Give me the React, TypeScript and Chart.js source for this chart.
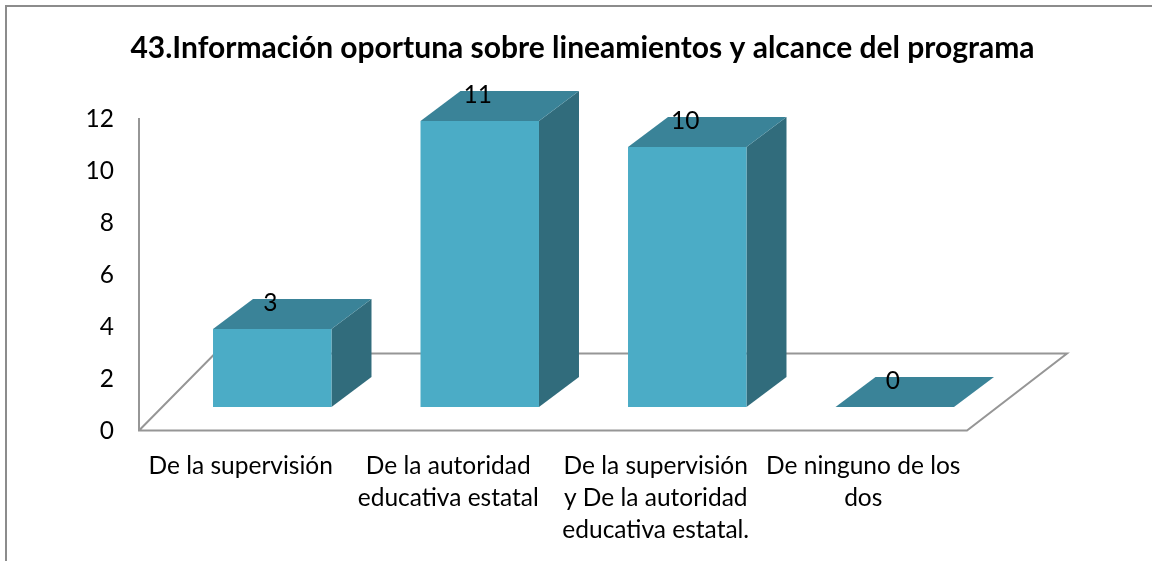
import React, { useEffect, useRef } from "react";
import { Chart, registerables } from "chart.js";

Chart.register(...registerables);

const categories = [
  "De la supervisión",
  ["De la autoridad", "educativa estatal"],
  ["De la supervisión", "y De la autoridad", "educativa estatal."],
  ["De ninguno de los", "dos"],
];
const values = [3, 11, 10, 0];
const yTicks = { min: 0, max: 12, step: 2 };
const titleText = "43.Información oportuna sobre lineamientos y alcance del programa";

const FRONT = "#4BACC6";
const TOP = "#3A8398";
const SIDE = "#316C7C";
const FLOOR = "#969696";
const FONT = "Lato, Carlito, sans-serif";
// projection of the 3D box
const DEPTH_X = 40;
const DEPTH_Y = -30;
const FLOOR_DX = 100;
const FLOOR_DY = -77;
const BAR_SHIFT_X = 31.5;
const BAR_SHIFT_Y = -24;

function poly(ctx: CanvasRenderingContext2D, pts: number[][], fill: string) {
  ctx.beginPath();
  pts.forEach((p, i) => (i ? ctx.lineTo(p[0], p[1]) : ctx.moveTo(p[0], p[1])));
  ctx.closePath();
  ctx.fillStyle = fill;
  ctx.fill();
}

const box3d = {
  id: "box3d",
  beforeDatasetsDraw(chart: any) {
    const { ctx, chartArea: a } = chart;
    const l = a.left + 2;
    const r = a.right;
    const b = a.bottom - 0.5;
    ctx.save();
    ctx.strokeStyle = FLOOR;
    ctx.lineWidth = 2;
    ctx.lineJoin = "miter";
    ctx.beginPath();
    ctx.moveTo(l, a.top - 1);
    ctx.lineTo(l, b);
    ctx.lineTo(r, b);
    ctx.lineTo(r + FLOOR_DX, b + FLOOR_DY);
    ctx.lineTo(l + 76, b + FLOOR_DY);
    ctx.lineTo(l, b);
    ctx.stroke();

    ctx.translate(BAR_SHIFT_X, BAR_SHIFT_Y);
    chart.getDatasetMeta(0).data.forEach((bar: any) => {
      const x0 = bar.x - bar.width / 2;
      const x1 = bar.x + bar.width / 2;
      const top = bar.y;
      const base = bar.base;
      if (base - top > 0.5) {
        poly(ctx, [[x1, top], [x1 + DEPTH_X, top + DEPTH_Y], [x1 + DEPTH_X, base + DEPTH_Y], [x1, base]], SIDE);
      }
      poly(ctx, [[x0, top], [x1, top], [x1 + DEPTH_X, top + DEPTH_Y], [x0 + DEPTH_X, top + DEPTH_Y]], TOP);
    });
    ctx.restore();
  },
  beforeDatasetDraw(chart: any) {
    chart.ctx.save();
    chart.ctx.translate(BAR_SHIFT_X, BAR_SHIFT_Y);
  },
  afterDatasetDraw(chart: any) {
    chart.ctx.restore();
  },
  afterDatasetsDraw(chart: any) {
    const { ctx } = chart;
    ctx.save();
    ctx.translate(BAR_SHIFT_X, BAR_SHIFT_Y);
    ctx.fillStyle = "#000";
    ctx.font = `24.5px ${FONT}`;
    ctx.textAlign = "center";
    ctx.textBaseline = "middle";
    chart.getDatasetMeta(0).data.forEach((bar: any, i: number) => {
      ctx.fillText(String(values[i]), bar.x - 2, bar.y - 26);
    });
    ctx.restore();
  },
};

export default function App() {
  const ref = useRef<HTMLCanvasElement>(null);
  useEffect(() => {
    const chart = new Chart(ref.current!, {
      type: "bar",
      data: {
        labels: categories as any,
        datasets: [
          {
            data: values,
            backgroundColor: FRONT,
            borderWidth: 0,
            barPercentage: 0.78,
            categoryPercentage: 0.732,
            clip: false,
          } as any,
        ],
      },
      options: {
        animation: false,
        responsive: false,
        layout: { padding: { left: 13, right: 0, top: 0, bottom: 0 } },
        plugins: {
          legend: { display: false },
          tooltip: { enabled: false },
          title: {
            display: true,
            text: titleText,
            color: "#000",
            font: { family: FONT, size: 30, weight: "bold", lineHeight: 1.2 },
            padding: { top: 30, bottom: 53 },
          },
        },
        scales: {
          x: {
            grid: { display: false },
            border: { display: false },
            afterFit: (s: any) => {
              s.height = 130;
            },
            ticks: {
              color: "#000",
              font: { family: FONT, size: 24.5, lineHeight: 1.306 },
              maxRotation: 0,
              autoSkip: false,
              padding: 11,
            },
          },
          y: {
            min: yTicks.min,
            max: yTicks.max,
            grid: { display: false },
            border: { display: false },
            afterFit: (s: any) => {
              s.width = 124;
            },
            ticks: {
              stepSize: yTicks.step,
              color: "#000",
              font: { family: FONT, size: 24.5 },
              padding: 15,
            },
          },
          right: {
            position: "right",
            display: true,
            grid: { display: false },
            border: { display: false },
            ticks: { display: false },
            afterFit: (s: any) => {
              s.width = 185;
            },
          },
        },
      } as any,
      plugins: [box3d],
    });
    return () => chart.destroy();
  }, []);
  return (
    <div style={{ position: "absolute", left: 0, top: 0, width: 1152, height: 561, overflow: "hidden", background: "#fff" }}>
      <canvas ref={ref} width={1152} height={561} style={{ position: "absolute", left: 0, top: 0, display: "block" }} />
      <div
        style={{
          position: "absolute",
          left: 5,
          top: 5,
          width: 1152,
          height: 561,
          borderLeft: "2px solid #8C8C8C",
          borderTop: "2px solid #8C8C8C",
        }}
      />
    </div>
  );
}
